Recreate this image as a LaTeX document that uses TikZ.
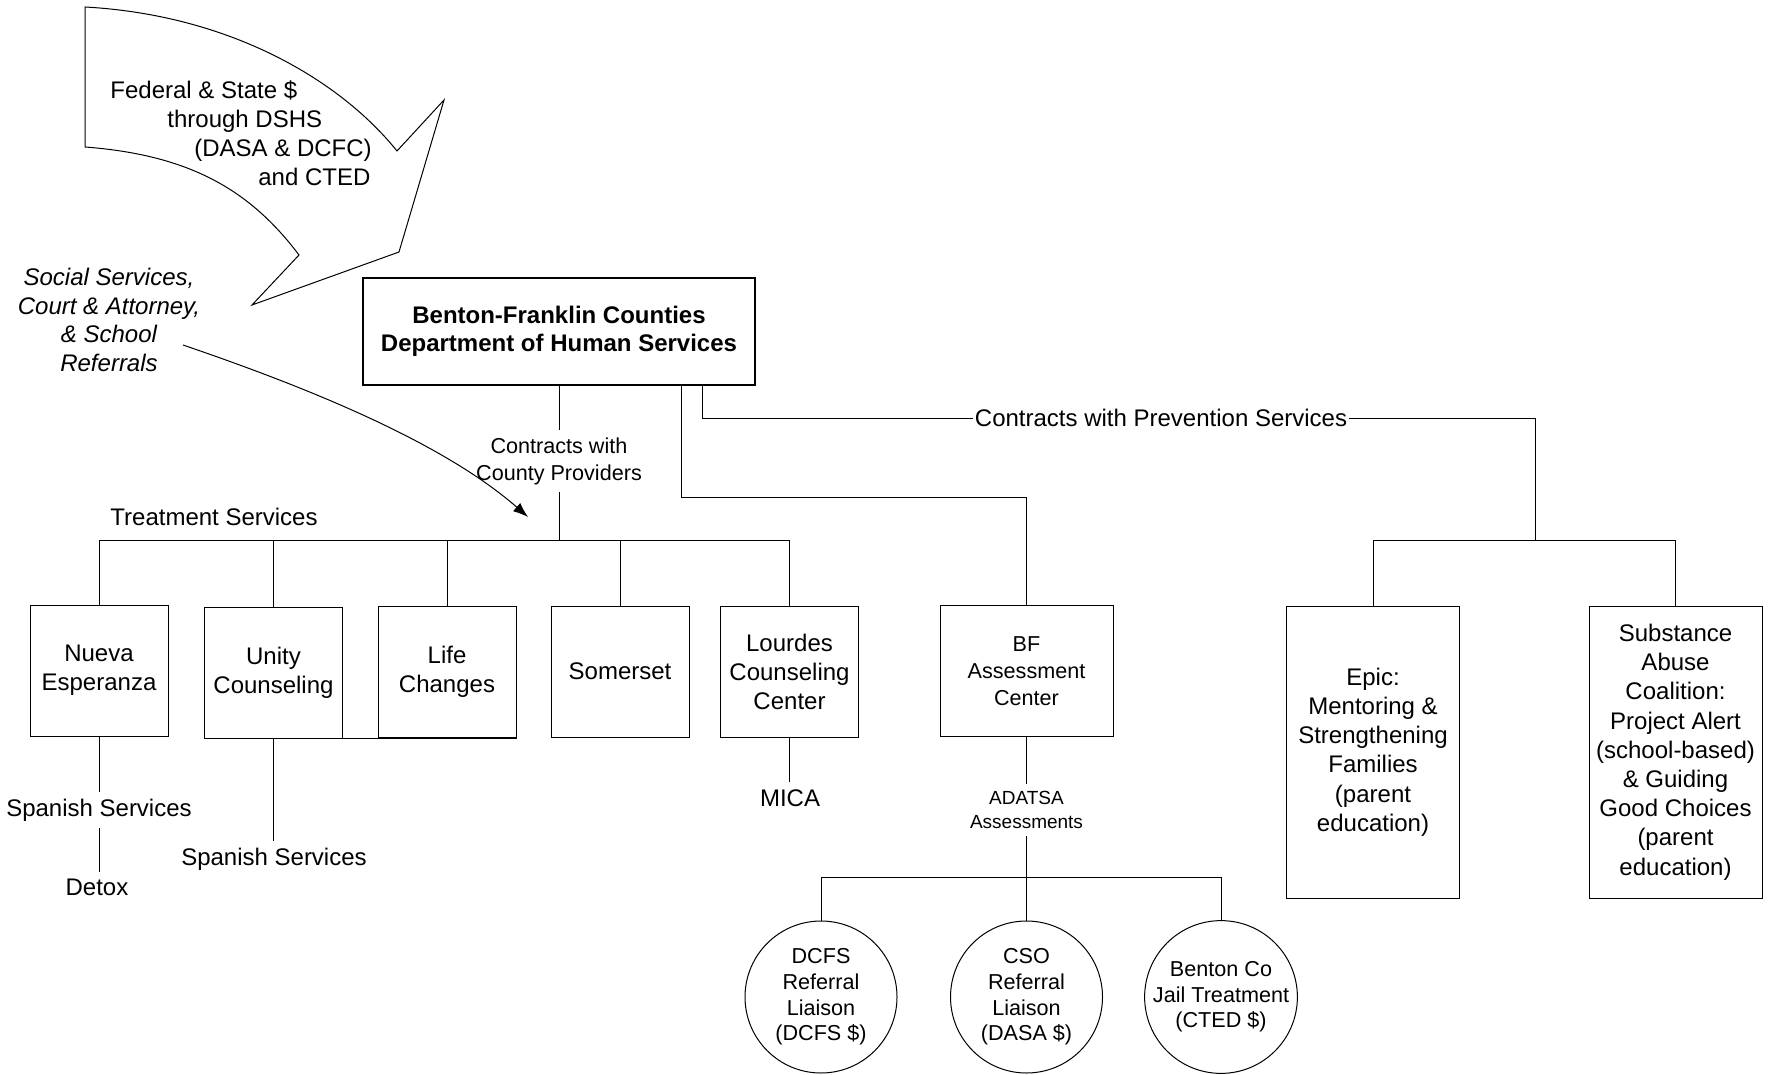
\documentclass[tikz,border=0pt]{standalone}
\usepackage{fontspec}
\setmainfont{Liberation Sans}
\usetikzlibrary{arrows.meta,positioning,calc}

\begin{document}
\begin{tikzpicture}[
    x=0.5pt, y=-0.5pt,
    every node/.style={font=\fontsize{12}{14}\selectfont, align=center},
    link/.style={line width=0.5pt},
    box/.style={draw, line width=0.5pt, minimum width=69pt, minimum height=65.5pt,
                inner sep=1pt, font=\fontsize{12}{14.5}\selectfont},
    tallbox/.style={box, minimum width=86.5pt, minimum height=146pt,
                    font=\fontsize{12}{14.6}\selectfont},
    liaison/.style={draw, circle, line width=0.5pt, minimum size=76pt, inner sep=0pt,
                    font=\fontsize{10.8}{12.8}\selectfont},
    arr/.style={-{Latex[length=7.5pt,width=5.5pt]}, line width=0.5pt}
  ]
  \useasboundingbox (0,0) rectangle (1771,1075);

  % funding arrow
  \draw[line width=0.5pt, fill=white] (85,7) .. controls (230,15) and (340,80) .. (397,151)
      -- (444,100) -- (399,252) -- (252,305) -- (299,255)
      .. controls (250,190) and (190,155) .. (85,147) -- cycle;
  \node[anchor=north west, inner sep=0pt, align=left, font=\fontsize{12}{14.5}\selectfont] (fed) at (110,80)
    {Federal \& State \$\\\hspace*{28.5pt}through DSHS\\\hspace*{42pt}(DASA \& DCFC)\\\hspace*{74pt}and CTED};

  \node[font=\itshape\fontsize{12}{14.4}\selectfont] (refs) at (109,320)
    {Social Services,\\Court \& Attorney,\\\& School\\Referrals};

  \node[draw, line width=1.4pt, minimum width=196pt, minimum height=53.5pt,
        font=\bfseries\fontsize{12}{14}\selectfont] (dhs) at (559,331.5)
    {Benton-Franklin Counties\\Department of Human Services};

  \node[font=\fontsize{10.8}{13.5}\selectfont] (cwcp) at (559,461) {Contracts with\\County Providers};
  \node (trt) at (214,517) {Treatment Services};
  \node[inner sep=1pt] (cps) at (1161,418) {Contracts with Prevention Services};

  \node[box] (nueva) at (99,670.5) {Nueva\\Esperanza};
  \node[box] (unity) at (273.5,672.5) {Unity\\Counseling};
  \node[box] (life) at (447,671.5) {Life\\Changes};
  \node[box] (somer) at (620,671.5) {Somerset};
  \node[box] (lourd) at (789.5,671.5) {Lourdes\\Counseling\\Center};
  \node[box, minimum width=86.5pt, font=\fontsize{10.8}{13.5}\selectfont] (bfac) at (1026.5,671)
    {BF\\Assessment\\Center};

  \node[tallbox] (epic) at (1373,752)
    {Epic:\\Mentoring \&\\Strengthening\\Families\\(parent\\education)};
  \node[tallbox] (sac) at (1675.5,752)
    {Substance\\Abuse\\Coalition:\\Project Alert\\(school-based)\\\& Guiding\\Good Choices\\(parent\\education)};

  \node (ss1) at (99,810) {Spanish Services};
  \node (detox) at (97,887) {Detox};
  \node (ss2) at (274,859) {Spanish Services};
  \node (mica) at (790,798) {MICA};
  \node[font=\fontsize{9.5}{12}\selectfont] (ada) at (1026.5,810) {ADATSA\\Assessments};

  \node[liaison] (dcfs) at (821,997) {DCFS\\Referral\\Liaison\\(DCFS \$)};
  \node[liaison] (cso) at (1026.5,997) {CSO\\Referral\\Liaison\\(DASA \$)};
  \node[liaison] (jail) at (1221,997) {Benton Co\\Jail Treatment\\(CTED \$)};

  \coordinate (tb) at (559,540);
  \coordinate (pb) at (1535,540);
  \coordinate (ab) at (1026.5,877);

  \draw[link] (dhs.south) -- (cwcp.north);
  \draw[link] (cwcp.south) -- (tb);
  \foreach \n in {nueva,unity,life,somer,lourd}
    \draw[link] (tb) -| (\n.north);
  \draw[link] (unity.south east) -- (unity.south east -| life.south east);
  \draw[link] (nueva.south) -- (ss1.north);
  \draw[link] (ss1.south) -- (ss1.south |- detox.north);
  \draw[link] (unity.south) -- (unity.south |- ss2.north);
  \draw[link] (lourd.south) -- (lourd.south |- mica.north);

  \draw[link] ([xshift=61pt]dhs.south) -- ++(0,111) -| (bfac.north);
  \draw[link] (bfac.south) -- (ada.north);
  \draw[link] (ada.south) -- (ab);
  \foreach \c in {dcfs,cso,jail}
    \draw[link] (ab) -| (\c.north);

  \draw[link] ([xshift=71.5pt]dhs.south) |- (cps.west);
  \draw[link] (cps.east) -| (pb);
  \draw[link] (pb) -| (epic.north);
  \draw[link] (pb) -| (sac.north);

  \coordinate (rs) at (183,345);
  \coordinate (rt) at (528,517);
  \draw[arr] (rs) .. controls (300,385) and (440,440) .. (rt);
\end{tikzpicture}
\end{document}
